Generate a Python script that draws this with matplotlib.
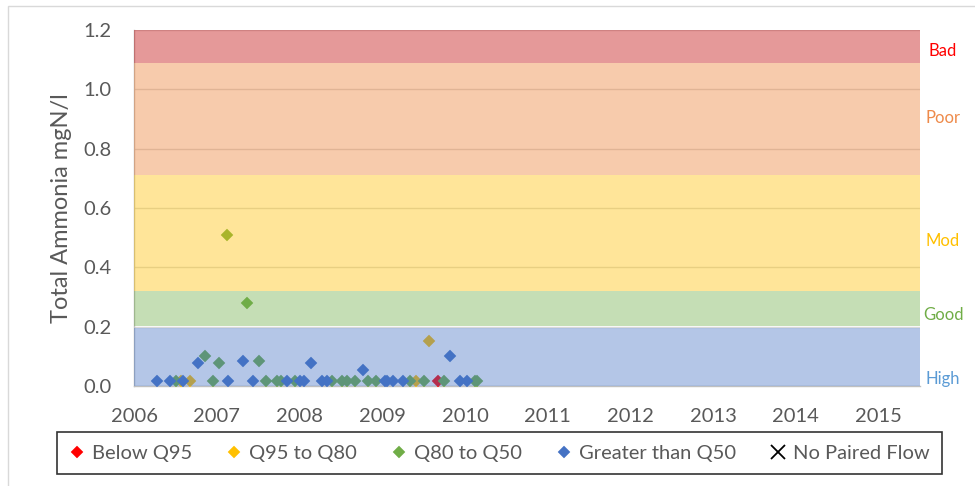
import matplotlib
matplotlib.use("Agg")
import matplotlib.pyplot as plt
from matplotlib.patches import Rectangle
from matplotlib.transforms import blended_transform_factory
import numpy as np

plt.rcParams['font.family'] = ['Lato', 'DejaVu Sans']

# ---- data (decimal years, mgN/l) ----
below_q95_x = [2009.67]
below_q95_y = [0.017]

q95_q80_x = [2006.57, 2006.68, 2009.41, 2009.56]
q95_q80_y = [0.017, 0.017, 0.017, 0.153]

q80_q50_x = [2006.51, 2006.86, 2006.96, 2007.03, 2007.12, 2007.36, 2007.51, 2007.60,
             2007.73, 2007.78, 2007.94, 2008.39, 2008.51, 2008.57, 2008.67, 2008.83,
             2008.93, 2009.33, 2009.51, 2009.75, 2010.12, 2010.15]
q80_q50_y = [0.017, 0.100, 0.017, 0.079, 0.510, 0.281, 0.085, 0.017,
             0.017, 0.017, 0.017, 0.017, 0.017, 0.017, 0.017, 0.017,
             0.017, 0.017, 0.017, 0.017, 0.017, 0.017]

gt_q50_x = [2006.28, 2006.43, 2006.59, 2006.77, 2007.14, 2007.32, 2007.44, 2007.85,
            2008.01, 2008.06, 2008.14, 2008.27, 2008.33, 2008.77, 2009.03, 2009.06,
            2009.13, 2009.25, 2009.82, 2009.94, 2010.02]
gt_q50_y = [0.017, 0.017, 0.017, 0.079, 0.017, 0.085, 0.017, 0.017,
            0.017, 0.017, 0.079, 0.017, 0.017, 0.053, 0.017, 0.017,
            0.017, 0.017, 0.100, 0.017, 0.017]

no_flow_x = []
no_flow_y = []

series_names = ["Below Q95", "Q95 to Q80", "Q80 to Q50", "Greater than Q50", "No Paired Flow"]

band_names = ["High", "Good", "Mod", "Poor", "Bad"]
band_lower = [0.0, 0.202, 0.32, 0.711, 1.088]
band_upper = [0.196, 0.32, 0.711, 1.088, 1.2]
band_label_y = [0.024, 0.239, 0.489, 0.904, 1.13]

x_ticks = [2006, 2007, 2008, 2009, 2010, 2011, 2012, 2013, 2014, 2015]
y_ticks = [0.0, 0.2, 0.4, 0.6, 0.8, 1.0, 1.2]

# ---- styles ----
band_colors = ["#4472C4", "#70AD47", "#FFC000", "#ED7D31", "#C00000"]
band_text_colors = ["#5B9BD5", "#70AD47", "#FFC000", "#EE8A4A", "#FF0000"]
series_colors = ["#FF0000", "#FFC000", "#70AD47", "#4472C4", "#000000"]
grey = "#595959"

W, H = 975, 486
fig = plt.figure(figsize=(W / 100, H / 100), dpi=100)
ax = fig.add_axes([134 / W, 1 - 386 / H, (920 - 134) / W, (386 - 30) / H])

# chart area border (light)
fig.patches.append(Rectangle((8 / W, -0.1), 1.2, 1 - 6 / H + 0.1, transform=fig.transFigure,
                             fill=False, edgecolor="#D9D9D9", linewidth=1.0, zorder=0))

ax.set_xlim(2006, 2015.5)
ax.set_ylim(0, 1.2)
ax.set_axisbelow(True)
ax.yaxis.grid(True, color="#D9D9D9", linewidth=1.0)

ms = 5.8
handles = []
for xs, ys, c, name in zip([below_q95_x, q95_q80_x, q80_q50_x, gt_q50_x],
                           [below_q95_y, q95_q80_y, q80_q50_y, gt_q50_y],
                           series_colors[:4], series_names[:4]):
    h, = ax.plot(xs, ys, linestyle="none", marker="D", markersize=ms,
                 markerfacecolor=c, markeredgecolor=c, markeredgewidth=0.3,
                 color=c, label=name, zorder=3)
    handles.append(h)
h, = ax.plot(no_flow_x, no_flow_y, linestyle="none", marker="x", markersize=10,
             markeredgewidth=1.3, color=series_colors[4], label=series_names[4], zorder=3)
handles.append(h)

# quality bands drawn over markers, semi-transparent
for lo, hi, c in zip(band_lower, band_upper, band_colors):
    ax.axhspan(lo, hi, facecolor=c, alpha=0.4, edgecolor="none", zorder=4)

trans = blended_transform_factory(fig.transFigure, ax.transData)
for name, yv, c in zip(band_names, band_label_y, band_text_colors):
    ax.text(943 / W, yv, name, transform=trans, ha="center", va="center",
            color=c, fontsize=12, clip_on=False)

for s in ["top", "right"]:
    ax.spines[s].set_visible(False)
ax.spines["left"].set_color("#BFBFBF")
ax.spines["bottom"].set_color("#BFBFBF")
ax.spines["left"].set_linewidth(1.0)
ax.spines["bottom"].set_linewidth(1.0)

ax.set_xticks(x_ticks)
ax.set_xticklabels([str(t) for t in x_ticks])
ax.set_yticks(y_ticks)
ax.set_yticklabels(["%.1f" % t for t in y_ticks])
ax.tick_params(axis="both", length=0, labelsize=14.5, labelcolor=grey)
ax.tick_params(axis="x", pad=16)
ax.tick_params(axis="y", pad=16)
ax.set_ylabel("Total Ammonia mgN/l", fontsize=17, color=grey, labelpad=8)

leg = fig.legend(handles=handles, loc="center",
                 bbox_to_anchor=(57 / W, 1 - 476 / H, 885 / W, 46 / H),
                 mode="expand", ncol=5, fontsize=14.5, frameon=True, fancybox=False,
                 handlelength=0.8, handletextpad=0.35, borderaxespad=0, borderpad=0.6,
                 columnspacing=1.0)
leg.get_frame().set_edgecolor("black")
leg.get_frame().set_linewidth(1.2)
for t in leg.get_texts():
    t.set_color(grey)

fig.savefig("out.png", dpi=100)
